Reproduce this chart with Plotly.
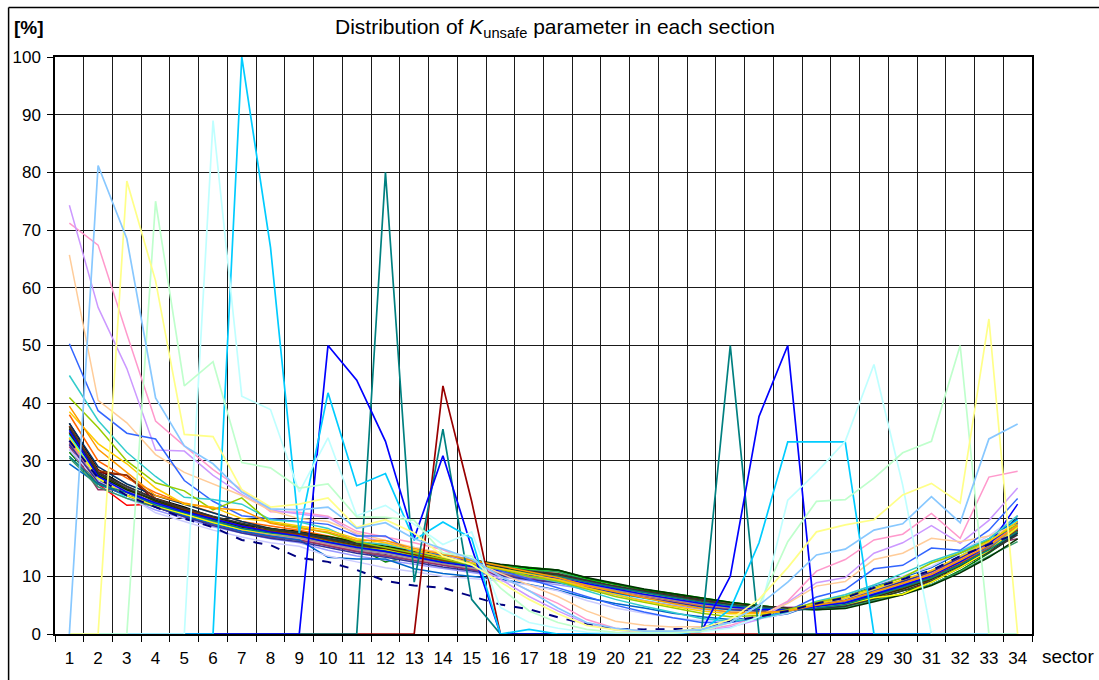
import plotly.graph_objects as go

# ---------------- data ----------------
sectors = list(range(1, 35))
sector_labels = [str(s) for s in sectors]
y_ticks = list(range(0, 101, 10))

# main bundle of sections
s_black = [36.5, 28.5, 25.5, 23.5, 22, 20.3, 19, 18.2, 17.8, 16.8, 15.8, 15, 14.3, 13.3, 12.5, 11.8, 11.3, 11, 9.6, 8.7, 7.6, 6.8, 6.1, 5.4, 4.9, 4.4, 4.3, 4.5, 5.8, 7, 9, 11.5, 14.5, 20.5]
s_red = [33, 26, 22.3, 22.5, 21, 19.5, 18.5, 18, 17.5, 16.5, 15.5, 15, 14, 13, 12.3, 11.7, 10.8, 10.5, 9, 8.3, 7.2, 6.5, 5.6, 5, 4.6, 4.2, 4.5, 4.6, 6, 6.8, 9.5, 12, 15, 18]
s_lime = [34, 27, 24, 22.5, 21, 19.5, 18.5, 17.8, 17.2, 16.3, 15.5, 14.3, 13.7, 12.8, 12.2, 11.9, 11.2, 10.8, 9.5, 8.6, 7.7, 7, 6.2, 5.5, 4.9, 4.5, 4.6, 5, 6.5, 8, 9.5, 12.5, 15, 18.5]
s_dkgreen = [31.5, 26, 24, 22.3, 21, 19.8, 18.5, 18, 17.3, 16.5, 15, 12.5, 13.5, 12.8, 12.2, 12, 11.5, 11.1, 9.7, 8.6, 7.7, 6.9, 6.1, 5.4, 4.8, 4.5, 4.3, 4.8, 6, 7.5, 8.5, 11, 14, 17.5]
s_navy = [36, 28, 25.5, 23, 21.5, 20, 18.5, 17.5, 17, 16, 15, 14.5, 13.3, 12.5, 11.8, 11, 10.2, 9.6, 8.7, 7.7, 6.9, 6, 5.2, 4.5, 4.2, 4, 4.5, 5.2, 6.8, 8.5, 10.5, 13, 15.8, 19.5]
s_magenta = [34, 27.5, 24, 22, 20.5, 19.2, 18, 17, 16.5, 15.5, 14.5, 14, 13, 12, 11.2, 10.6, 9.8, 9.3, 8.5, 7.6, 6.8, 6, 5.2, 4.7, 4.4, 4.2, 5, 5.5, 7, 8.8, 11, 12.8, 15.5, 19]
s_cyan = [34.5, 27, 23.5, 22, 20.5, 19.5, 18, 17.3, 16.8, 16.8, 15.4, 14.2, 13, 12, 11.3, 10.5, 9.5, 9, 8, 7, 6.2, 5.3, 4.6, 4.2, 4, 4.1, 5.2, 6, 7.5, 9, 10.5, 13.5, 16.5, 19.8]
s_purple = [33, 26.5, 25, 22.5, 21, 19.5, 18, 17.2, 16.5, 15.3, 14.3, 13.8, 12.8, 12, 11.2, 10.5, 9.8, 9.5, 8.8, 7.9, 7.2, 6.5, 5.8, 5.2, 4.8, 4.6, 4.7, 5.3, 6.8, 8.5, 10, 12.5, 15, 18]
s_maroon = [35, 28, 27.5, 23, 21.5, 20, 18.8, 17.8, 17.2, 16.2, 15.2, 14.5, 13.5, 12.7, 12, 11.4, 10.7, 10.3, 9.2, 8.2, 7.4, 6.6, 5.8, 5.1, 4.8, 4.4, 4.4, 5, 6.3, 8, 9.8, 12.3, 14.5, 18]
s_olive = [36, 27.5, 24.5, 22.8, 21.3, 19.7, 18.3, 17.5, 17, 16.2, 15.3, 14.6, 13.7, 12.7, 12, 11.4, 10.6, 10.2, 9, 8.2, 7.3, 6.6, 5.8, 5.2, 4.8, 4.4, 4.6, 5, 6.4, 7.8, 9.6, 12, 14.8, 18.2]
s_silver = [33.5, 27, 24.5, 22.5, 20.8, 19.3, 18, 17.2, 16.4, 15.6, 14.6, 14, 13, 12.2, 11.5, 10.8, 10, 9.6, 8.6, 7.6, 6.8, 6, 5.2, 4.6, 4.3, 4.3, 4.9, 5.6, 7.2, 8.8, 10.4, 12.8, 15.2, 18.5]
s_gray = [33, 26.5, 24, 22, 20.5, 19, 17.6, 16.8, 16.2, 15.4, 14.4, 13.6, 12.8, 12, 11.3, 10.6, 9.8, 9.3, 8.4, 7.5, 6.6, 5.8, 5, 4.5, 4.2, 4.1, 4.8, 5.5, 7.1, 8.6, 10.2, 12.6, 15.2, 18.3]
s_periwinkle = [32, 25.5, 23.5, 21.5, 20, 18.6, 17.5, 16.5, 15.8, 14.5, 13.5, 12.8, 12, 11.3, 10.7, 10, 9.2, 8.6, 7.8, 6.8, 5.8, 5, 4.3, 3.8, 3.6, 3.8, 5, 6, 7.6, 9.2, 10.8, 13.5, 16, 19]
s_plum = [32.5, 25, 25, 22, 20.3, 19, 17.8, 16.8, 16.3, 15.3, 14.3, 13.5, 12.7, 11.8, 11, 10.3, 9.5, 9, 8.2, 7.3, 6.5, 5.7, 5, 4.5, 4.3, 4.3, 5, 5.8, 7.3, 8.9, 10.5, 13, 15.5, 16.5]
s_salmon = [33.5, 26, 24.5, 22, 20.8, 19.2, 18, 17.2, 16.6, 15.6, 14.6, 14.2, 13, 12.2, 11.5, 10.8, 9.9, 9.3, 8.3, 7.3, 6.4, 5.6, 4.8, 4.3, 4, 4, 4.8, 5.7, 7.3, 9, 10.6, 13, 15.5, 18.8]
s_ocean = [29.5, 26, 24, 22, 20.5, 19.2, 17.8, 17, 16.3, 13.3, 13, 13, 11.3, 10.5, 10, 9.5, 8.6, 7.6, 6.3, 5.3, 4.5, 3.6, 3, 2.5, 2.8, 3.5, 5.3, 6.5, 8.3, 9.8, 11.5, 14, 16.5, 20]
s_lilac = [32, 26.5, 24, 21, 19.5, 18, 16.8, 15.8, 15.2, 13.5, 12.5, 11.5, 10.8, 10, 9.6, 9.2, 8.5, 7.5, 5.8, 4.5, 3.6, 2.8, 2.3, 2.2, 2.6, 3.6, 5.5, 6.8, 8.5, 10, 11.7, 14.3, 17, 20.5]
s_dkorange = [38, 30, 27, 24.5, 22.6, 21, 19.5, 18.7, 18, 17, 16, 15.5, 14.2, 13.3, 12.5, 11.6, 10.7, 10, 8.8, 7.8, 6.8, 5.9, 5, 4.4, 4, 4, 4.7, 5.4, 7, 8.5, 10, 12.3, 14.8, 17.7]
s_slate = [35, 27.5, 25.5, 23, 21.3, 19.7, 18.3, 17.5, 16.9, 15.8, 14.8, 14.2, 13.2, 12.3, 11.6, 10.9, 10.1, 9.6, 8.6, 7.6, 6.8, 6, 5.2, 4.6, 4.3, 4.2, 4.8, 5.4, 7, 8.6, 10.2, 12.6, 15, 18.3]
s_gray40 = [33.8, 27.2, 24.8, 22.6, 21, 19.5, 18.2, 17.3, 16.7, 15.7, 14.7, 14, 13.1, 12.2, 11.5, 10.8, 10, 9.5, 8.5, 7.6, 6.7, 5.9, 5.1, 4.5, 4.2, 4.2, 4.8, 5.5, 7.1, 8.7, 10.3, 12.7, 15.2, 18.6]
s_dkteal = [36.5, 29, 26, 24, 22.5, 21, 19.5, 18.3, 17.5, 16.5, 15.6, 14.8, 13.8, 13, 12.2, 11.5, 10.6, 10, 9, 8, 7.2, 6.3, 5.5, 4.9, 4.5, 4.2, 4.5, 5.3, 6.8, 8.2, 9.8, 12, 14.5, 17.5]
s_seagreen = [30.5, 25.5, 23.5, 22, 20.8, 19.3, 18.2, 17.6, 17, 16.3, 15.4, 14.4, 13.6, 12.9, 12.3, 11.8, 11, 10.8, 9.3, 8.2, 7.3, 6.5, 5.7, 5, 4.6, 4.3, 4.2, 4.6, 5.8, 7, 8.6, 10.8, 13.5, 16]
s_forest = [35.5, 27.5, 25, 23.2, 21.8, 20.3, 19, 18.3, 17.7, 16.9, 16, 15.2, 14.4, 13.6, 12.8, 12.1, 11.5, 11.1, 9.8, 8.8, 7.8, 7, 6.2, 5.5, 4.9, 4.4, 4.2, 4.4, 5.6, 6.8, 8.4, 10.6, 13.3, 16.5]
s_darkolive = [34.8, 27.8, 25.2, 23, 21.4, 19.9, 18.6, 17.7, 17.2, 16.3, 15.4, 14.7, 13.8, 12.9, 12.2, 11.5, 10.7, 10.2, 9.1, 8.1, 7.2, 6.4, 5.6, 5, 4.6, 4.3, 4.5, 5, 6.4, 7.8, 9.5, 11.8, 14.4, 17.8]
s_brown = [36, 28.3, 27.5, 23.5, 21.7, 20.1, 18.7, 17.8, 17.2, 16.2, 15.2, 14.6, 13.6, 12.7, 12, 11.3, 10.5, 10, 9, 8.1, 7.2, 6.4, 5.6, 5, 4.6, 4.3, 4.6, 5.2, 6.6, 8.1, 9.8, 12.1, 14.7, 17.9]
s_indigo = [32.8, 26.3, 24, 22, 20.3, 18.8, 17.5, 16.6, 16, 15, 14, 13.3, 12.4, 11.6, 10.9, 10.2, 9.4, 8.9, 8, 7.1, 6.3, 5.5, 4.7, 4.2, 4, 4, 4.9, 5.8, 7.4, 9.1, 10.8, 13.2, 15.8, 19.2]
s_charcoal = [35.8, 28, 25.6, 23.4, 21.8, 20.4, 19.2, 18.2, 17.6, 16.6, 15.7, 15, 14, 13.2, 12.4, 11.7, 10.9, 10.4, 9.3, 8.3, 7.4, 6.6, 5.8, 5.1, 4.7, 4.4, 4.4, 4.8, 6.1, 7.5, 9.2, 11.5, 14.2, 17.2]
s_yellow = [34, 27, 24, 22.2, 20.8, 19.3, 18.1, 17.4, 17, 16, 15, 14.5, 13.5, 12.4, 11.7, 11, 10.3, 9.8, 8.8, 7.8, 7, 6.2, 5.4, 4.8, 4.4, 4.2, 4.6, 5.1, 6.3, 6.9, 9, 11.5, 14.5, 18.5]
s_teal2 = [30.8, 26, 24.5, 22.4, 21, 19.6, 18.3, 17.5, 17, 16, 15.1, 14.4, 13.4, 12.5, 11.9, 11.3, 10.5, 10, 9, 8, 7.2, 6.3, 5.5, 4.9, 4.5, 4.2, 4.5, 5.1, 6.6, 8.1, 9.7, 12, 14.6, 17.8]
s_blue2 = [35.3, 27.3, 24.6, 22.7, 21.2, 19.9, 18.7, 17.7, 17, 15.9, 15, 14.3, 13.3, 12.4, 11.7, 11, 10.2, 9.7, 8.7, 7.8, 6.9, 6.1, 5.3, 4.7, 4.3, 4.1, 4.7, 5.4, 6.9, 8.4, 10.1, 12.5, 15.3, 22.5]

# sections starting high on the left
s_pink = [71.2, 67.4, 52, 36.9, 32.6, 28.5, 25, 21.2, 21.1, 20.4, 17.8, 16.8, 15.8, 14.6, 12.5, 10, 7.5, 5.3, 2.5, 1, 0.5, 0.4, 0.6, 1.5, 3, 5.7, 10.9, 12.9, 16.3, 17.3, 20.9, 16.6, 27.2, 28.2]
s_lavender = [74.3, 56.6, 46, 31.9, 31.7, 27.5, 24.2, 21.5, 20.8, 20.2, 17.2, 15.8, 15, 14, 12, 9.5, 6.5, 4, 1.8, 0.7, 0.3, 0.3, 0.5, 1.2, 2.5, 5.5, 8.9, 9.8, 14, 15.8, 18.8, 15.7, 19.7, 25.3]
s_peach = [65.7, 40.5, 36.6, 31.1, 28, 26, 24, 21.4, 20, 19.5, 17.5, 16.2, 15, 14, 12.8, 10.5, 8.5, 6.5, 4, 2.2, 1.5, 1.2, 1.3, 2, 3.2, 5.3, 8.3, 9.1, 12.9, 14, 16.6, 16, 17, 19]
s_royal = [50.3, 38.7, 34.8, 33.8, 26.6, 23, 20.5, 20, 19.5, 19, 17, 17, 14, 13.8, 12.8, 11, 9.5, 8, 6.5, 5, 3.8, 2.8, 2, 2, 2.8, 4, 6.4, 7.7, 11.3, 11.9, 14.9, 14.5, 18, 23.5]
s_turquoise = [44.8, 37, 31.5, 27.3, 23.7, 23.3, 22.5, 19.8, 19.4, 18.3, 16, 15.5, 14.5, 13.3, 12.3, 11.3, 10, 9, 7.5, 6, 4.8, 3.7, 2.7, 2.2, 2.7, 3.8, 5.7, 6.8, 8.5, 10.5, 12.6, 14.3, 16.5, 20.5]
s_yellowgreen = [41, 35.8, 30, 26.2, 24.8, 21.5, 23.6, 19.3, 18.5, 17.5, 16, 15, 14, 13, 12, 11.2, 10, 9.2, 7.8, 6.5, 5.5, 4.5, 3.6, 3, 3.2, 4.2, 5.5, 6.5, 8, 9.8, 12.3, 14, 16.2, 19]
s_gold = [38.5, 33, 29.5, 25.3, 22.5, 22, 20, 19.5, 18.7, 18, 16.5, 15.8, 14.5, 13.3, 12.3, 11.3, 10.3, 9.4, 8, 6.8, 5.7, 4.8, 4, 3.5, 3.5, 4, 5.3, 6.2, 7.8, 9.3, 11, 13.5, 16, 19.5]
s_orange = [39.5, 32, 28, 24, 22.7, 21.8, 21.5, 19.2, 18.3, 17.7, 16.2, 16.2, 14.8, 13.8, 12.8, 11.8, 10.7, 9.8, 8.4, 7.3, 6.3, 5.3, 4.4, 3.8, 3.7, 4, 5, 5.8, 7.3, 8.8, 10.3, 12.8, 15.3, 18.8]

# dashed reference section
s_dashed = [33.5, 27, 24, 22, 20, 18.5, 16.3, 15.4, 13.2, 12.5, 11.1, 9.2, 8.4, 8, 6.5, 5.1, 4.3, 2.9, 1.7, 0.9, 0.8, 0.8, 0.9, 2.2, 3, 4, 5.3, 6.3, 8, 9.5, 11, 13.5, 15.5, 17.5]

# partial sections (zero outside their range)
s_spike_maroon = [0, 0, 0, 0, 0, 0, 0, 0, 0, 0, 0, 0, 0, 43, 23, 0, 0, 0, 0, 0, 0, 0, 0, 0, 0, 0, 0, 0, 0, 0, 0, 0, 0, 0]
s_spike_teal = [0, 0, 0, 0, 0, 0, 0, 0, 0, 0, 0, 80, 9, 35.5, 6, 0, 0, 0, 0, 0, 0, 0, 0.5, 50, 0, 0, 0, 0, 0, 0, 0, 0, 0, 0]
s_spike_blue = [0, 0, 0, 0, 0, 0, 0, 0, 0, 50, 44, 33.4, 16.6, 30.9, 15, 0, 0, 0, 0, 0, 0, 0, 0.5, 10, 37.7, 50, 0, 0, 0, 0, 0, 0, 0, 0]
s_spike_deepsky = [0, 0, 0, 0, 0, 0, 100, 67, 17.5, 41.8, 25.7, 27.8, 16.3, 19.4, 16.6, 0, 0.8, 0, 0, 0, 0, 0, 0.5, 4.3, 15.8, 33.3, 33.3, 33.3, 0, 0, 0, 0, 0, 0]
s_spike_lightcyan = [0, 0, 0, 0, 0, 89, 41.2, 38.9, 24.6, 34, 20.5, 22.3, 19, 15.5, 17.7, 4.6, 2, 1, 0.3, 0.2, 0.2, 0.2, 0.4, 1, 3, 23.2, 28, 33.4, 46.7, 25.8, 0, 0, 0, 0]
s_spike_lightgreen = [0, 0, 0, 75, 43, 47.2, 29.7, 28.8, 25.3, 26, 20.3, 20.2, 19.7, 14, 13.5, 8, 4, 2, 0.8, 0.3, 0.2, 0.2, 0.5, 2, 5, 16, 23, 23.3, 27, 31.4, 33.4, 50, 0, 0]
s_spike_lightyellow = [0, 0, 78.5, 61.2, 34.6, 34.2, 25, 22, 22.5, 23.6, 18.5, 19.8, 17.5, 13.5, 12, 9, 6, 3.5, 1.5, 0.7, 0.5, 0.5, 1, 2.5, 6, 11.5, 17.7, 18.9, 19.8, 24.1, 26.1, 22.7, 54.6, 0]
s_spike_lightblue = [0, 81.2, 68.5, 40.9, 32.6, 29.5, 24.6, 21.7, 21.5, 22, 18.3, 19.3, 16.5, 14.8, 13, 10, 7.5, 4.5, 2, 1, 0.5, 0.5, 0.8, 2, 5, 9, 13.7, 14.7, 18, 19.1, 23.8, 19.3, 33.8, 36.4]

# ---------------- styling ----------------
series = [
    (s_black, "#000000"), (s_red, "#FF0000"), (s_lime, "#00FF00"), (s_dkgreen, "#008000"),
    (s_navy, "#000080"), (s_magenta, "#FF00FF"), (s_cyan, "#00FFFF"), (s_purple, "#800080"),
    (s_maroon, "#800000"), (s_olive, "#808000"), (s_silver, "#C0C0C0"), (s_gray, "#808080"),
    (s_periwinkle, "#9999FF"), (s_plum, "#993366"), (s_salmon, "#FF8080"), (s_ocean, "#0066CC"),
    (s_lilac, "#CCCCFF"), (s_dkorange, "#FF6600"), (s_slate, "#666699"), (s_gray40, "#969696"),
    (s_dkteal, "#003366"), (s_seagreen, "#339966"), (s_forest, "#003300"), (s_darkolive, "#333300"),
    (s_brown, "#993300"), (s_indigo, "#333399"), (s_charcoal, "#333333"), (s_yellow, "#FFFF00"),
    (s_teal2, "#008080"), (s_blue2, "#0000FF"),
    (s_pink, "#FF99CC"), (s_lavender, "#CC99FF"), (s_peach, "#FFCC99"), (s_royal, "#3366FF"),
    (s_turquoise, "#33CCCC"), (s_yellowgreen, "#99CC00"), (s_gold, "#FFCC00"), (s_orange, "#FF9900"),
]
spikes = [
    (s_spike_maroon, "#990000"), (s_spike_teal, "#008080"), (s_spike_blue, "#0000FF"),
    (s_spike_deepsky, "#00CCFF"), (s_spike_lightcyan, "#BFFFFF"), (s_spike_lightgreen, "#BFFFCC"),
    (s_spike_lightyellow, "#FFFF88"), (s_spike_lightblue, "#88C8FF"),
]

fig = go.Figure()
for vals, col in series:
    assert len(vals) == 34
    fig.add_trace(go.Scatter(x=sectors, y=vals, mode="lines",
                             line=dict(color=col, width=1.5), hoverinfo="skip"))
fig.add_trace(go.Scatter(x=sectors, y=s_dashed, mode="lines",
                         line=dict(color="#000080", width=2, dash="dash"), hoverinfo="skip"))
for vals, col in spikes:
    assert len(vals) == 34
    fig.add_trace(go.Scatter(x=sectors, y=vals, mode="lines",
                             line=dict(color=col, width=1.7), hoverinfo="skip"))

# pixel -> paper helpers (plot area: x 53..1032, y 57..640)
L, R, T, B = 53, 1032, 57, 640
def px(x):
    return (x - L) / (R - L)
def py(y):
    return (B - y) / (B - T)

FONT = "Liberation Sans, Arial, sans-serif"
boundaries = [s + 0.5 for s in range(0, 35)]

fig.update_layout(
    width=1099, height=680,
    margin=dict(l=L, r=1099 - R, t=T, b=680 - B, pad=0),
    paper_bgcolor="white", plot_bgcolor="white",
    showlegend=False,
    font=dict(family=FONT, size=17, color="black"),
    xaxis=dict(
        range=[0.5, 34.5], tickmode="array", tickvals=sectors, ticktext=sector_labels,
        ticks="outside", ticklen=8, tickcolor="rgba(0,0,0,0)",
        showgrid=False, zeroline=False,
        showline=True, linecolor="black", linewidth=1.5, mirror=True,
        tickfont=dict(family=FONT, size=17, color="black"),
        minor=dict(tickmode="array", tickvals=boundaries, ticks="outside", ticklen=6,
                   tickcolor="black", tickwidth=1, showgrid=True,
                   gridcolor="#1a1a1a", gridwidth=1),
    ),
    yaxis=dict(
        range=[0, 100], tickmode="array", tickvals=y_ticks,
        ticks="outside", ticklen=6, tickcolor="black",
        showgrid=True, gridcolor="#1a1a1a", gridwidth=1, zeroline=False,
        showline=True, linecolor="black", linewidth=1.5, mirror=True,
        tickfont=dict(family=FONT, size=17, color="black"),
        ticklabelstandoff=3,
    ),
)

fig.add_annotation(text="Distribution of <i>K</i><sub>unsafe</sub> parameter in each section",
                   xref="paper", yref="paper", x=px(554), y=py(28),
                   xanchor="center", yanchor="middle", showarrow=False,
                   font=dict(family=FONT, size=21, color="black"))
fig.add_annotation(text="<b>[%]</b>", xref="paper", yref="paper", x=px(10), y=py(27),
                   xanchor="left", yanchor="middle", showarrow=False,
                   font=dict(family=FONT, size=19, color="black"))
fig.add_annotation(text="sector", xref="paper", yref="paper", x=px(1040), y=py(663),
                   xanchor="left", yanchor="middle", showarrow=False,
                   font=dict(family=FONT, size=19, color="black"))

# outer chart border (left and top edges visible)
fig.add_shape(type="line", xref="paper", yref="paper", x0=px(6.5), x1=px(6.5),
              y0=py(7), y1=py(700), line=dict(color="black", width=1.5))
fig.add_shape(type="line", xref="paper", yref="paper", x0=px(6.5), x1=px(1120),
              y0=py(7), y1=py(7), line=dict(color="black", width=1.5))

fig.write_html("out.html", config={"displayModeBar": False},
               post_script="document.body.style.margin='0px';document.body.style.overflow='hidden';")
